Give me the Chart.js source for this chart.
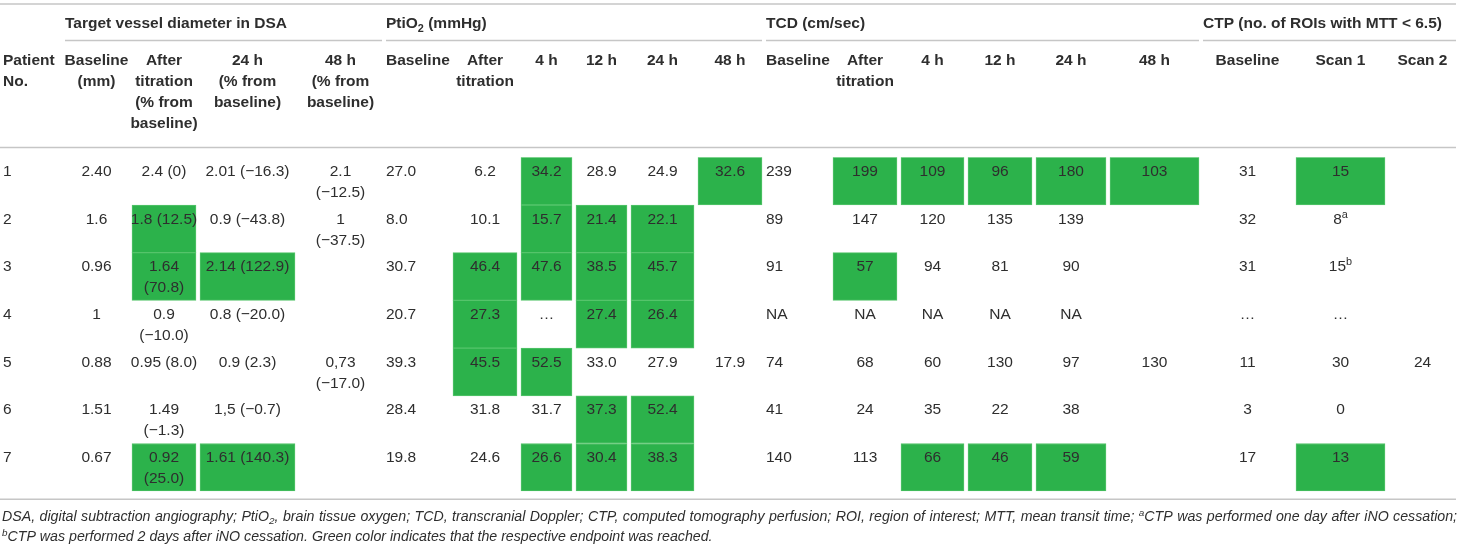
<!DOCTYPE html>
<html>
<head>
<meta charset="utf-8">
<script src="https://cdn.jsdelivr.net/npm/chart.js@4.4.1/dist/chart.umd.min.js"></script>
<style>
  html, body { margin: 0; padding: 0; background: #fff; }
  #wrap { width: 1460px; height: 549px; }
</style>
</head>
<body>
<div id="wrap"><canvas id="tbl" width="1460" height="549"></canvas></div>
<script>
// --- table content ---
const patients = ['1', '2', '3', '4', '5', '6', '7']

const groupTitles = ['Target vessel diameter in DSA', 'PtiO{_2} (mmHg)', 'TCD (cm/sec)', 'CTP (no. of ROIs with MTT < 6.5)']

const columnHeaders = [
  'Patient\nNo.',
  'Baseline\n(mm)', 'After\ntitration\n(% from\nbaseline)', '24 h\n(% from\nbaseline)', '48 h\n(% from\nbaseline)',
  'Baseline', 'After\ntitration', '4 h', '12 h', '24 h', '48 h',
  'Baseline', 'After\ntitration', '4 h', '12 h', '24 h', '48 h',
  'Baseline', 'Scan 1', 'Scan 2'
]

const dsaBaseline = ['2.40', '1.6', '0.96', '1', '0.88', '1.51', '0.67']
const dsaAfter = ['2.4 (0)', '1.8 (12.5)', '1.64\n(70.8)', '0.9\n(\u221210.0)', '0.95 (8.0)', '1.49\n(\u22121.3)', '0.92\n(25.0)']
const dsa24 = ['2.01 (\u221216.3)', '0.9 (\u221243.8)', '2.14 (122.9)', '0.8 (\u221220.0)', '0.9 (2.3)', '1,5 (\u22120.7)', '1.61 (140.3)']
const dsa48 = ['2.1\n(\u221212.5)', '1\n(\u221237.5)', '', '', '0,73\n(\u221217.0)', '', '']

const ptiBaseline = ['27.0', '8.0', '30.7', '20.7', '39.3', '28.4', '19.8']
const ptiAfter = ['6.2', '10.1', '46.4', '27.3', '45.5', '31.8', '24.6']
const pti4 = ['34.2', '15.7', '47.6', '\u2026', '52.5', '31.7', '26.6']
const pti12 = ['28.9', '21.4', '38.5', '27.4', '33.0', '37.3', '30.4']
const pti24 = ['24.9', '22.1', '45.7', '26.4', '27.9', '52.4', '38.3']
const pti48 = ['32.6', '', '', '', '17.9', '', '']

const tcdBaseline = ['239', '89', '91', 'NA', '74', '41', '140']
const tcdAfter = ['199', '147', '57', 'NA', '68', '24', '113']
const tcd4 = ['109', '120', '94', 'NA', '60', '35', '66']
const tcd12 = ['96', '135', '81', 'NA', '130', '22', '46']
const tcd24 = ['180', '139', '90', 'NA', '97', '38', '59']
const tcd48 = ['103', '', '', '', '130', '', '']

const ctpBaseline = ['31', '32', '31', '\u2026', '11', '3', '17']
const ctpScan1 = ['15', '8{^a}', '15{^b}', '\u2026', '30', '0', '13']
const ctpScan2 = ['', '', '', '', '24', '', '']

// patients whose endpoint was reached (green cells), per column
const reachedDsaAfter = ['2', '3', '7']
const reachedDsa24 = ['3', '7']
const reachedPtiAfter = ['3', '4', '5']
const reachedPti4 = ['1', '2', '3', '5', '7']
const reachedPti12 = ['2', '3', '4', '6', '7']
const reachedPti24 = ['2', '3', '4', '6', '7']
const reachedPti48 = ['1']
const reachedTcdAfter = ['1', '3']
const reachedTcd4 = ['1', '7']
const reachedTcd12 = ['1', '7']
const reachedTcd24 = ['1', '7']
const reachedTcd48 = ['1']
const reachedCtpScan1 = ['1', '7']

const footnote1 = 'DSA, digital subtraction angiography; PtiO{_2}, brain tissue oxygen; TCD, transcranial Doppler; CTP, computed tomography perfusion; ROI, region of interest; MTT, mean transit time; {^a}CTP was performed one day after iNO cessation;'
const footnote2 = '{^b}CTP was performed 2 days after iNO cessation. Green color indicates that the respective endpoint was reached.'

const columns = [
  { values: patients, reached: [] },
  { values: dsaBaseline, reached: [] },
  { values: dsaAfter, reached: reachedDsaAfter },
  { values: dsa24, reached: reachedDsa24 },
  { values: dsa48, reached: [] },
  { values: ptiBaseline, reached: [] },
  { values: ptiAfter, reached: reachedPtiAfter },
  { values: pti4, reached: reachedPti4 },
  { values: pti12, reached: reachedPti12 },
  { values: pti24, reached: reachedPti24 },
  { values: pti48, reached: reachedPti48 },
  { values: tcdBaseline, reached: [] },
  { values: tcdAfter, reached: reachedTcdAfter },
  { values: tcd4, reached: reachedTcd4 },
  { values: tcd12, reached: reachedTcd12 },
  { values: tcd24, reached: reachedTcd24 },
  { values: tcd48, reached: reachedTcd48 },
  { values: ctpBaseline, reached: [] },
  { values: ctpScan1, reached: reachedCtpScan1 },
  { values: ctpScan2, reached: [] }
]

// --- layout ---
const colLeft = [0, 65, 132, 200, 299, 386, 453, 521, 576, 631, 698, 766, 833, 901, 968, 1036, 1110, 1203, 1296, 1389]
const colRight = [61, 128, 196, 295, 382, 449, 517, 572, 627, 694, 762, 829, 897, 964, 1032, 1106, 1199, 1292, 1385, 1456]
const leftAligned = [0, 5, 11]
const groupCols = [[1, 4], [5, 10], [11, 16], [17, 19]]
const FONT = '"Liberation Sans", Arial, Helvetica, sans-serif'
const TEXT = '#2e2e2e'
const RULE = '#c6c6c6'
const GREEN = '#2cb24b'

function richParts(text) {
  const parts = []
  const re = /\{([\^_])([^}]*)\}/g
  let last = 0, m
  while ((m = re.exec(text))) {
    if (m.index > last) parts.push({ t: text.slice(last, m.index), k: '' })
    parts.push({ t: m[2], k: m[1] })
    last = re.lastIndex
  }
  if (last < text.length) parts.push({ t: text.slice(last), k: '' })
  return parts
}

function drawRich(ctx, text, x, y, align, size, weight, style, justifyTo) {
  const parts = richParts(text)
  const font = s => `${style} ${weight} ${s}px ${FONT}`
  let w = 0, spaces = 0
  parts.forEach(p => {
    ctx.font = font(p.k ? size * 0.7 : size)
    p.w = ctx.measureText(p.t).width
    w += p.w
    if (!p.k) spaces += (p.t.match(/ /g) || []).length
  })
  let extra = 0
  if (justifyTo && spaces) extra = (justifyTo - w) / spaces
  let cx = align === 'center' ? x - w / 2 : align === 'right' ? x - w : x
  ctx.textAlign = 'left'
  ctx.textBaseline = 'middle'
  parts.forEach(p => {
    if (p.k) {
      ctx.font = font(size * 0.7)
      ctx.fillText(p.t, cx, y + (p.k === '^' ? -size * 0.3 : size * 0.3))
      cx += p.w
      return
    }
    ctx.font = font(size)
    if (!extra) {
      ctx.fillText(p.t, cx, y)
      cx += p.w
      return
    }
    const words = p.t.split(' ')
    const sp = ctx.measureText(' ').width
    words.forEach((wd, i) => {
      ctx.fillText(wd, cx, y)
      cx += ctx.measureText(wd).width
      if (i < words.length - 1) cx += sp + extra
    })
  })
}

function hline(ctx, x1, x2, y) {
  ctx.beginPath()
  ctx.moveTo(x1, y)
  ctx.lineTo(x2, y)
  ctx.stroke()
}

const tableText = {
  id: 'tableText',
  afterDatasetsDraw(chart) {
    const ctx = chart.ctx
    const xs = chart.scales.x
    const ys = chart.scales.y
    const px = v => xs.getPixelForValue(v)
    const rowH = (ys.bottom - ys.top) / patients.length
    ctx.save()
    ctx.strokeStyle = RULE
    ctx.lineWidth = 1.5
    hline(ctx, 0, px(colRight[19]), 4)
    hline(ctx, 0, px(colRight[19]), 147.5)
    hline(ctx, 0, px(colRight[19]), ys.bottom + 8)
    ctx.fillStyle = TEXT
    groupCols.forEach((g, i) => {
      hline(ctx, px(colLeft[g[0]]), px(colRight[g[1]]), 40.5)
      drawRich(ctx, groupTitles[i], px(colLeft[g[0]]), 24, 'left', 15.5, 'bold', 'normal')
    })
    columnHeaders.forEach((h, c) => {
      const isLeft = leftAligned.includes(c)
      const x = isLeft ? px(colLeft[c]) + (c === 0 ? 3 : 0) : px((colLeft[c] + colRight[c]) / 2)
      h.split('\n').forEach((ln, k) => {
        drawRich(ctx, ln, x, 61 + k * 20.8, isLeft ? 'left' : 'center', 15.5, 'bold', 'normal')
      })
    })
    columns.forEach((col, c) => {
      const isLeft = leftAligned.includes(c)
      const x = isLeft ? px(colLeft[c]) + (c === 0 ? 3 : 0) : px((colLeft[c] + colRight[c]) / 2)
      col.values.forEach((v, r) => {
        const top = ys.getPixelForValue(r) - rowH / 2
        v.split('\n').forEach((ln, k) => {
          drawRich(ctx, ln, x, top + 14.4 + k * 21, isLeft ? 'left' : 'center', 15.5, 'normal', 'normal')
        })
      })
    })
    drawRich(ctx, footnote1, 2, 517, 'left', 14.2, 'normal', 'italic', 1455)
    drawRich(ctx, footnote2, 2, 537, 'left', 14.2, 'normal', 'italic')
    ctx.restore()
  }
}

const greenCells = []
columns.forEach((col, c) => {
  col.reached.forEach(p => greenCells.push({ y: p, x: [colLeft[c], colRight[c]] }))
})

new Chart(document.getElementById('tbl'), {
  type: 'bar',
  data: {
    labels: patients,
    datasets: [{
      label: 'Endpoint reached',
      data: greenCells,
      backgroundColor: GREEN,
      borderColor: '#55c46b',
      borderWidth: 1,
      borderSkipped: false,
      categoryPercentage: 1,
      barPercentage: 1
    }]
  },
  options: {
    indexAxis: 'y',
    responsive: false,
    devicePixelRatio: 1,
    animation: false,
    layout: { padding: { top: 157.3, bottom: 57.8, left: 0, right: 0 } },
    scales: {
      x: { type: 'linear', min: 0, max: 1460, display: false },
      y: { type: 'category', display: false, offset: true }
    },
    plugins: { legend: { display: false }, tooltip: { enabled: false } }
  },
  plugins: [tableText]
})
</script>
</body>
</html>
